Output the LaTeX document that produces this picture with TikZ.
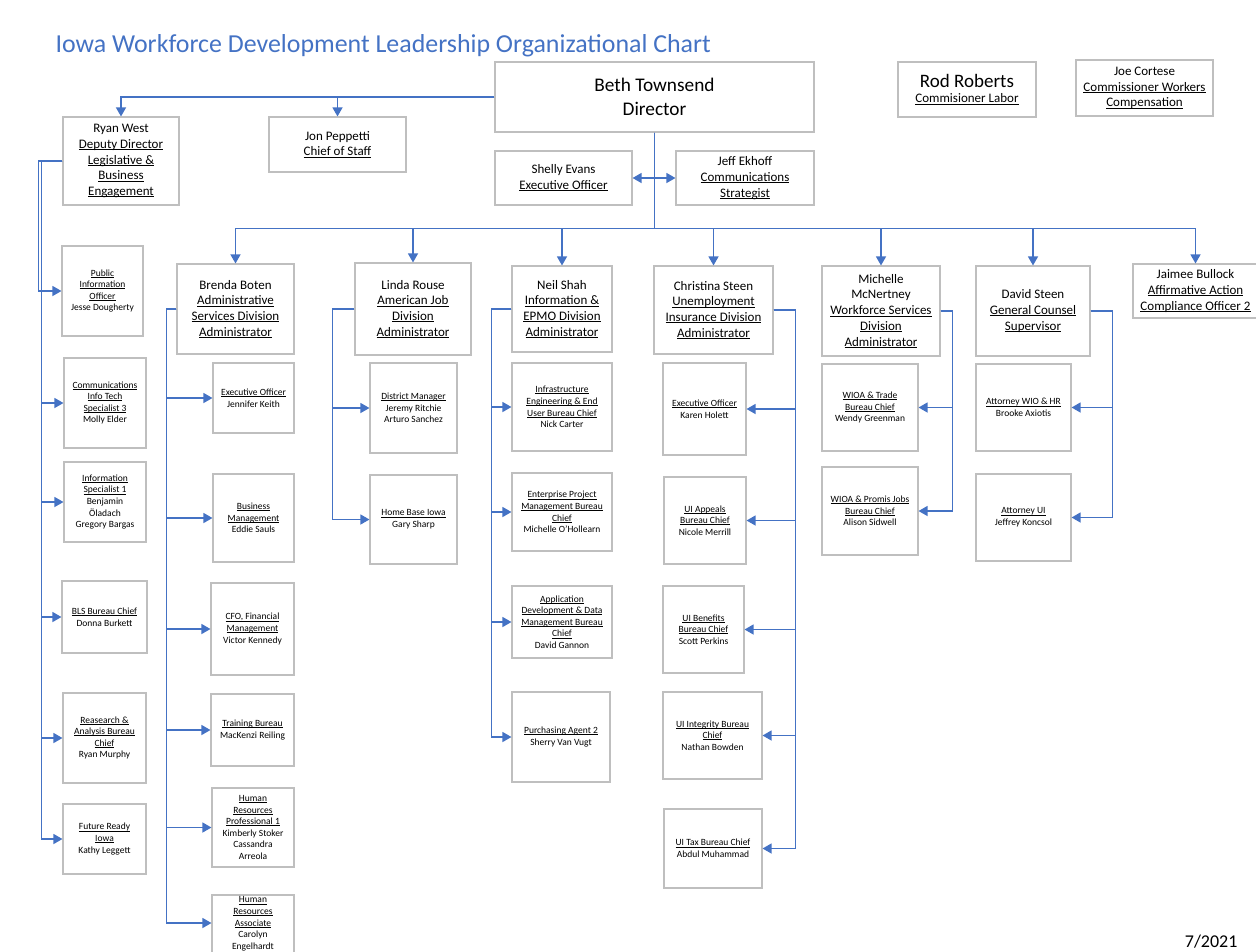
\documentclass[tikz,border=0pt]{standalone}
\usepackage{fontspec}
\setmainfont{Carlito}
\usepackage{xcolor}
\usepackage{tikz}
\usetikzlibrary{arrows.meta}
\usetikzlibrary{positioning}

\definecolor{iwdblue}{HTML}{4472C4}
\definecolor{boxgray}{HTML}{BFBFBF}

\newcommand{\uln}[1]{\setbox0\hbox{#1}\rlap{\rule[-0.14em]{\wd0}{0.07em}}\box0}

\tikzset{
  box/.style={draw=boxgray, line width=1.1pt, align=center, inner sep=1pt, text=black},
  small/.style={box, font=\fontsize{9.5}{11.6}\selectfont},
  mid/.style={box, font=\fontsize{13}{15.7}\selectfont},
  conn/.style={draw=iwdblue, line width=1.3pt},
  arr/.style={conn, -{Triangle[length=9pt,width=10pt]}},
}

\begin{document}
\begin{tikzpicture}[x=1pt,y=-1pt]

  \useasboundingbox (0,0) rectangle (1256,951);
  \clip (0,0) rectangle (1256,951);

  \node[anchor=base west, text=iwdblue, font=\fontsize{25.9}{30}\selectfont] (title) at (52,52)
    {Iowa Workforce Development Leadership Organizational Chart};

  % top row
  \node[box, font=\fontsize{19.3}{24}\selectfont, minimum width=319, minimum height=70] (director) at (654.5,97)
    {Beth Townsend\\Director};
  \node[box, minimum width=138, minimum height=55] (rod) at (967,89.5)
    {{\fontsize{19}{21}\selectfont Rod Roberts}\\[3pt]{\fontsize{13}{15}\selectfont\uln{Commisioner Labor}}};
  \node[mid, minimum width=137, minimum height=56] (joe) at (1144.5,88)
    {Joe Cortese\\\uln{Commissioner Workers}\\\uln{Compensation}};

  \node[mid, minimum width=116, minimum height=88] (ryan) at (121,161)
    {Ryan West\\\uln{Deputy Director}\\\uln{Legislative \&}\\\uln{Business}\\\uln{Engagement}};
  \node[mid, minimum width=137, minimum height=55] (jon) at (337.5,144.5)
    {Jon Peppetti\\\uln{Chief of Staff}};
  \node[mid, minimum width=137, minimum height=54] (shelly) at (563.5,178)
    {Shelly Evans\\\uln{Executive Officer}};
  \node[mid, minimum width=138, minimum height=54] (jeff) at (745,178)
    {Jeff Ekhoff\\\uln{Communications}\\\uln{Strategist}};

  % deputy director column
  \node[small, minimum width=81, minimum height=90] (pio) at (102.5,291)
    {\uln{Public}\\\uln{Information}\\\uln{Officer}\\Jesse Dougherty};
  \node[small, minimum width=82, minimum height=90] (commit) at (105,403)
    {\uln{Communications}\\\uln{Info Tech}\\\uln{Specialist 3}\\Molly Elder};
  \node[small, minimum width=82, minimum height=80] (infospec) at (105,502)
    {\uln{Information}\\\uln{Specialist 1}\\Benjamin\\Öladach\\Gregory Bargas};
  \node[small, minimum width=85, minimum height=72] (bls) at (104.5,617)
    {\uln{BLS Bureau Chief}\\Donna Burkett};
  \node[small, minimum width=83, minimum height=90] (research) at (104.5,738)
    {\uln{Reasearch \&}\\\uln{Analysis Bureau}\\\uln{Chief}\\Ryan Murphy};
  \node[small, minimum width=83, minimum height=70] (future) at (104.5,839)
    {\uln{Future Ready}\\\uln{Iowa}\\Kathy Leggett};

  % division heads
  \node[mid, minimum width=117, minimum height=90] (brenda) at (235.5,309)
    {Brenda Boten\\\uln{Administrative}\\\uln{Services Division}\\\uln{Administrator}};
  \node[mid, minimum width=116, minimum height=92] (linda) at (413,309)
    {Linda Rouse\\\uln{American Job}\\\uln{Division}\\\uln{Administrator}};
  \node[mid, minimum width=100, minimum height=86] (neil) at (562,309)
    {Neil Shah\\\uln{Information \&}\\\uln{EPMO Division}\\\uln{Administrator}};
  \node[mid, minimum width=119, minimum height=88] (christina) at (713.5,310)
    {Christina Steen\\\uln{Unemployment}\\\uln{Insurance Division}\\\uln{Administrator}};
  \node[mid, minimum width=118, minimum height=90] (michelle) at (881,311)
    {Michelle\\McNertney\\\uln{Workforce Services}\\\uln{Division}\\\uln{Administrator}};
  \node[mid, minimum width=114, minimum height=90] (david) at (1033,311)
    {David Steen\\\uln{General Counsel}\\\uln{Supervisor}};
  \node[mid, minimum width=125, minimum height=54] (jaimee) at (1195.5,291)
    {Jaimee Bullock\\\uln{Affirmative Action}\\\uln{Compliance Officer 2}};

  % administrative services
  \node[small, minimum width=81, minimum height=70] (bexec) at (253.5,398)
    {\uln{Executive Officer}\\Jennifer Keith};
  \node[small, minimum width=81, minimum height=88] (bizmgmt) at (253.5,518)
    {\uln{Business}\\\uln{Management}\\Eddie Sauls};
  \node[small, minimum width=83, minimum height=92] (cfo) at (252.5,629)
    {\uln{CFO, Financial}\\\uln{Management}\\Victor Kennedy};
  \node[small, minimum width=83, minimum height=72] (training) at (252.5,730)
    {\uln{Training Bureau}\\MacKenzi Reiling};
  \node[small, minimum width=82, minimum height=79] (hrpro) at (253,827.5)
    {\uln{Human}\\\uln{Resources}\\\uln{Professional 1}\\Kimberly Stoker\\Cassandra\\Arreola};
  \node[small, minimum width=82, minimum height=70, text depth=14pt] (hrassoc) at (253,930)
    {\uln{Human}\\\uln{Resources}\\\uln{Associate}\\Carolyn\\Engelhardt};

  % american job
  \node[small, minimum width=87, minimum height=90] (dm) at (413.5,408)
    {\uln{District Manager}\\Jeremy Ritchie\\Arturo Sanchez};
  \node[small, minimum width=87, minimum height=89] (hbi) at (413.5,519.5)
    {\uln{Home Base Iowa}\\Gary Sharp};

  % information & epmo
  \node[small, minimum width=100, minimum height=88] (infra) at (562,407)
    {\uln{Infrastructure}\\\uln{Engineering \& End}\\\uln{User Bureau Chief}\\Nick Carter};
  \node[small, minimum width=100, minimum height=78] (epm) at (562,512)
    {\uln{Enterprise Project}\\\uln{Management Bureau}\\\uln{Chief}\\Michelle O'Hollearn};
  \node[small, minimum width=100, minimum height=72] (appdev) at (562,622)
    {\uln{Application}\\\uln{Development \& Data}\\\uln{Management Bureau}\\\uln{Chief}\\David Gannon};
  \node[small, minimum width=98, minimum height=90] (purch) at (561,737)
    {\uln{Purchasing Agent 2}\\Sherry Van Vugt};

  % unemployment insurance
  \node[small, minimum width=83, minimum height=92] (uiexec) at (704.5,409)
    {\uln{Executive Officer}\\Karen Holett};
  \node[small, minimum width=82, minimum height=87] (uiappeals) at (705,520.5)
    {\uln{UI Appeals}\\\uln{Bureau Chief}\\Nicole Merrill};
  \node[small, minimum width=81, minimum height=87] (uibenefits) at (703.5,629.5)
    {\uln{UI Benefits}\\\uln{Bureau Chief}\\Scott Perkins};
  \node[small, minimum width=99, minimum height=87] (uiintegrity) at (712.5,735.5)
    {\uln{UI Integrity Bureau}\\\uln{Chief}\\Nathan Bowden};
  \node[small, minimum width=98, minimum height=79] (uitax) at (713,848.5)
    {\uln{UI Tax Bureau Chief}\\Abdul Muhammad};

  % workforce services
  \node[small, minimum width=96, minimum height=87] (wioatrade) at (870,407.5)
    {\uln{WIOA \& Trade}\\\uln{Bureau Chief}\\Wendy Greenman};
  \node[small, minimum width=96, minimum height=88] (wioapj) at (870,511)
    {\uln{WIOA \& Promis Jobs}\\\uln{Bureau Chief}\\Alison Sidwell};

  % general counsel
  \node[small, minimum width=95, minimum height=87] (attwio) at (1023.5,407.5)
    {\uln{Attorney WIO \& HR}\\Brooke Axiotis};
  \node[small, minimum width=95, minimum height=87] (attui) at (1023.5,517.5)
    {\uln{Attorney UI}\\Jeffrey Koncsol};

  \node[anchor=base east, font=\fontsize{18}{20}\selectfont] (date) at (1241,947) {7/2021};

  % connectors
  \draw[arr] (director.west) -| (ryan.north);
  \draw[arr] (director.west) -| (jon.north);
  \draw[conn, {Triangle[length=9pt,width=10pt]}-{Triangle[length=9pt,width=10pt]}] (shelly.east) -- (jeff.west);
  \foreach \d in {brenda,linda,neil,christina,michelle,david,jaimee}
    \draw[arr] (director.south) -- ++(0,96) -| (\d.north);

  \draw[arr] (ryan.west) -- ++(-24,0) |- (pio.west);
  \foreach \c in {commit,infospec,bls,research,future}
    \draw[arr] (ryan.west) -- ++(-21,0) |- (\c.west);

  \foreach \c in {bexec,bizmgmt,cfo,training,hrpro}
    \draw[arr] (brenda.west) -- ++(-10,0) |- (\c.west);
  \draw[arr] (brenda.west) -- ++(-10,0) |- ([yshift=7pt]hrassoc.west);
  \foreach \c in {dm,hbi}
    \draw[arr] (linda.west) -- ++(-22,0) |- (\c.west);
  \foreach \c in {infra,epm,appdev,purch}
    \draw[arr] (neil.west) -- ++(-20,0) |- (\c.west);
  \foreach \c in {uiexec,uiappeals,uibenefits,uiintegrity,uitax}
    \draw[arr] (christina.east) -- ++(22,0) |- (\c.east);
  \foreach \c in {wioatrade,wioapj}
    \draw[arr] (michelle.east) -- ++(12,0) |- (\c.east);
  \foreach \c in {attwio,attui}
    \draw[arr] (david.east) -- ++(22,0) |- (\c.east);

\end{tikzpicture}
\end{document}
